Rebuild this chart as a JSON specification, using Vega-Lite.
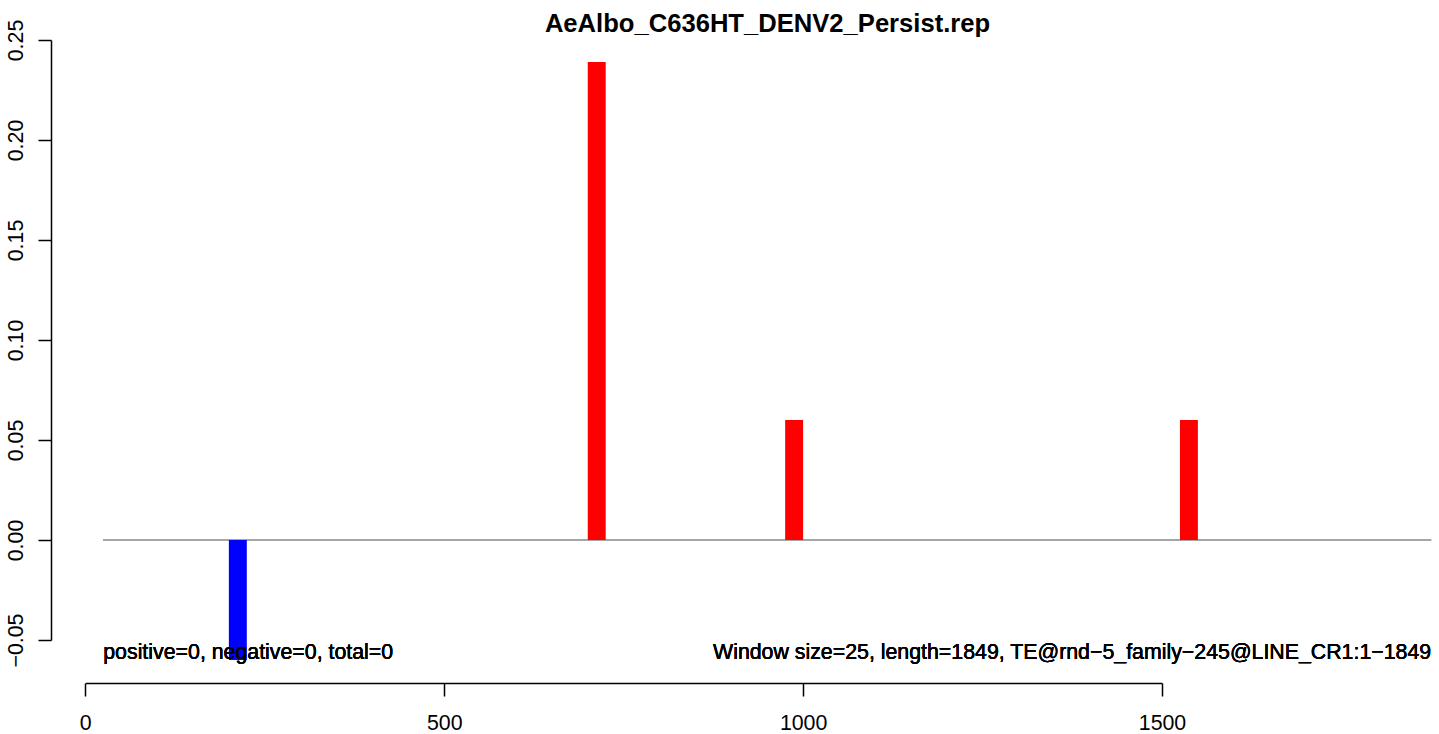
{
  "$schema": "https://vega.github.io/schema/vega-lite/v6.json",
  "width": 1388,
  "height": 600,
  "autosize": "none",
  "padding": {"left": 51, "top": 40, "right": 0, "bottom": 94},
  "background": "white",
  "config": {"view": {"stroke": null}, "font": "Liberation Sans"},
  "title": {
    "text": "AeAlbo_C636HT_DENV2_Persist.rep",
    "font": "Liberation Sans",
    "fontSize": 25.6,
    "fontWeight": "bold",
    "color": "black",
    "anchor": "middle",
    "frame": "group",
    "dx": 22.5,
    "dy": 26,
    "offset": 8
  },
  "data": {
    "values": [
      {"start": 200, "end": 225, "value": -0.06, "sign": "negative"},
      {"start": 700, "end": 725, "value": 0.239, "sign": "positive"},
      {"start": 975, "end": 1000, "value": 0.06, "sign": "positive"},
      {"start": 1525, "end": 1550, "value": 0.06, "sign": "positive"}
    ]
  },
  "layer": [
    {
      "mark": {"type": "rule", "color": "#a6a6a6", "strokeWidth": 1.5},
      "encoding": {
        "x": {
          "datum": 25,
          "type": "quantitative",
          "scale": {"domain": [0, 1500], "range": [34.3, 1111], "nice": false, "zero": false},
          "axis": {
            "values": [0, 500, 1000, 1500],
            "format": "d",
            "offset": 43,
            "title": null,
            "grid": false,
            "domainColor": "black",
            "domainWidth": 1.5,
            "tickColor": "black",
            "tickWidth": 1.5,
            "tickSize": 13,
            "labelFont": "Liberation Sans",
            "labelFontSize": 21.33,
            "labelColor": "black",
            "labelPadding": 16,
            "labelBaseline": "top",
            "labelFlush": false,
            "labelOverlap": false
          }
        },
        "x2": {"datum": 1875},
        "y": {
          "datum": 0,
          "type": "quantitative",
          "scale": {"domain": [-0.05, 0.25], "nice": false, "zero": false},
          "axis": {
            "values": [-0.05, 0, 0.05, 0.1, 0.15, 0.2, 0.25],
            "format": ".2f",
            "title": null,
            "grid": false,
            "domainColor": "black",
            "domainWidth": 1.5,
            "tickColor": "black",
            "tickWidth": 1.5,
            "tickSize": 13,
            "labelFont": "Liberation Sans",
            "labelFontSize": 21.33,
            "labelColor": "black",
            "labelAngle": 270,
            "labelAlign": "center",
            "labelBaseline": "alphabetic",
            "labelPadding": 16,
            "labelFlush": false,
            "labelOverlap": false
          }
        }
      }
    },
    {
      "mark": {"type": "rect"},
      "encoding": {
        "x": {"field": "start", "type": "quantitative"},
        "x2": {"field": "end"},
        "y": {"field": "value", "type": "quantitative"},
        "y2": {"datum": 0},
        "color": {
          "field": "sign",
          "type": "nominal",
          "scale": {"domain": ["positive", "negative"], "range": ["#ff0000", "#0000ff"]},
          "legend": null
        }
      }
    },
    {
      "mark": {"type": "text", "align": "left", "baseline": "alphabetic", "font": "Liberation Sans", "fontSize": 21.33, "color": "black", "text": "positive=0, negative=0, total=0"},
      "encoding": {
        "x": {"datum": 25, "type": "quantitative"},
        "y": {"datum": -0.0595, "type": "quantitative"}
      }
    },
    {
      "mark": {"type": "text", "align": "right", "baseline": "alphabetic", "font": "Liberation Sans", "fontSize": 21.33, "color": "black", "text": "Window size=25, length=1849, TE@rnd−5_family−245@LINE_CR1:1−1849"},
      "encoding": {
        "x": {"datum": 1875, "type": "quantitative"},
        "y": {"datum": -0.0595, "type": "quantitative"}
      }
    }
  ]
}
